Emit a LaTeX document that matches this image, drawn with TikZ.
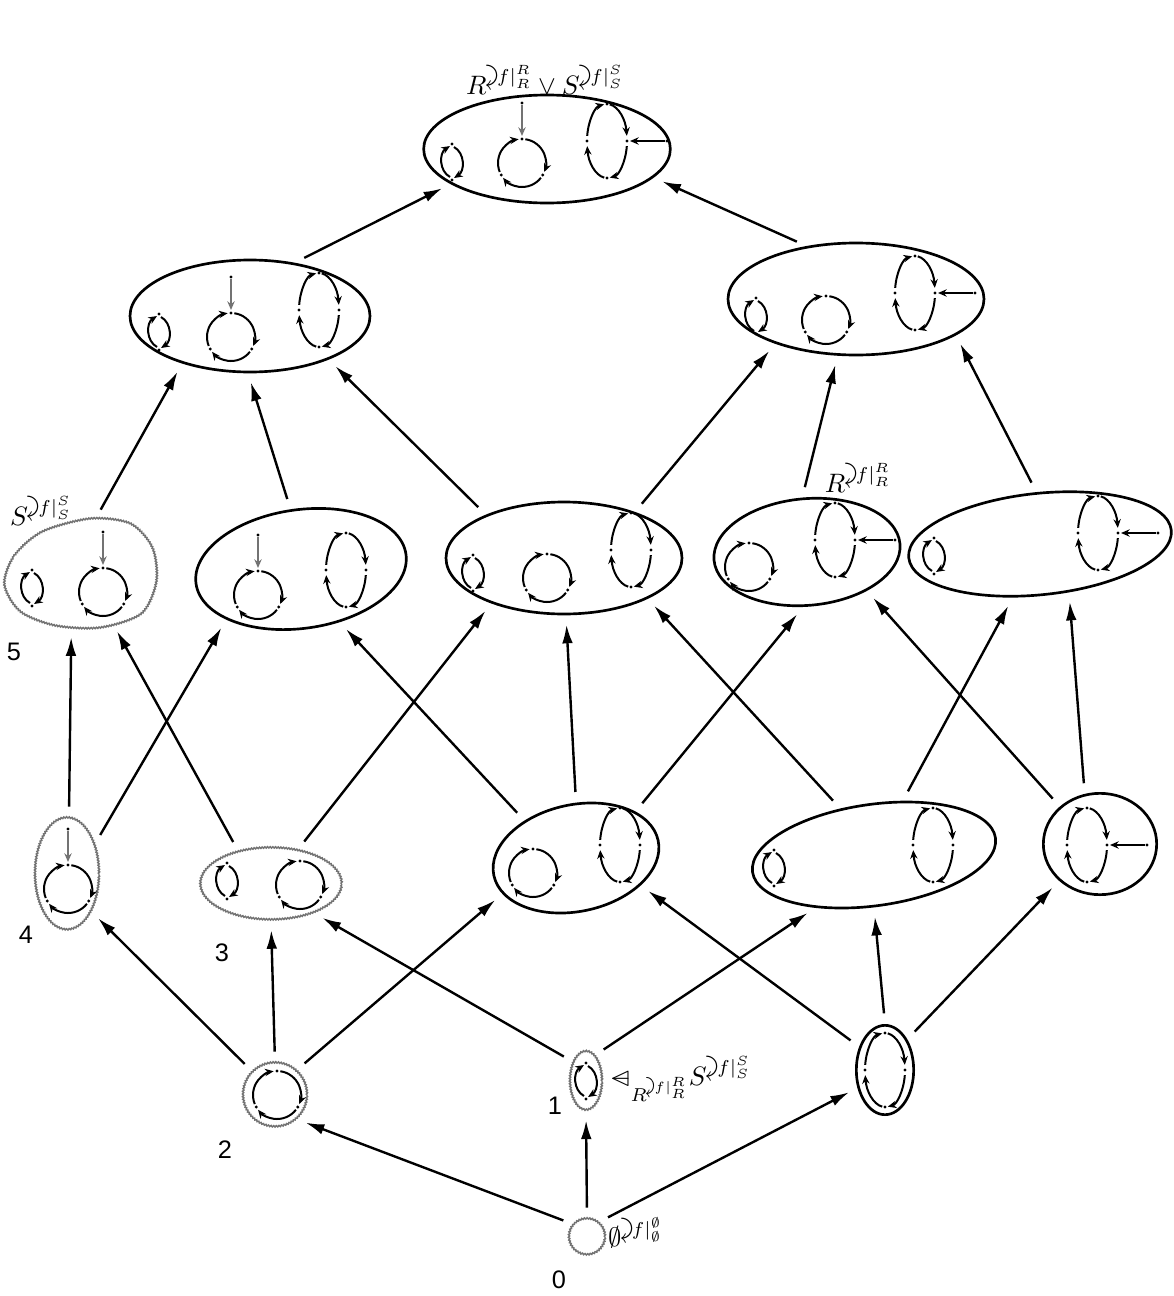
\documentclass[tikz,border=0pt]{standalone}
\usepackage{fontspec}
\setsansfont{Liberation Sans}
\usepackage{amsmath,amssymb}
\usepackage{graphicx}
\usetikzlibrary{shapes.geometric,arrows.meta,decorations.pathmorphing}

\newcommand{\turnaux}[2]{\scalebox{1.3}{\rotatebox[origin=c]{-90}{$#1\curvearrowright$}}}
\newcommand{\turn}{\mathord{\mathpalette\turnaux\relax}}
\newcommand{\qsym}{\mathord{\ooalign{$\vartriangleleft$\cr\hidewidth$-$\hidewidth\cr}}}

\tikzset{every picture/.style={line width=0.75pt}}
\tikzset{
  cyc/.style={line width=1.5pt, -{Stealth[length=6.5pt,width=5.5pt]}},
  wavy/.style={draw=black!55, line width=1.1pt, decorate, decoration={snake, amplitude=0.5pt, segment length=2pt}},
  sub/.style={ellipse, draw, line width=2pt, inner sep=0pt},
  subg/.style={ellipse, wavy, inner sep=0pt},
  incl/.style={line width=1.8pt, -{Latex[length=14pt,width=8pt]}, shorten <=8pt, shorten >=7pt},
  lab/.style={scale=2, inner sep=0pt},
  num/.style={font=\sffamily, scale=1.9, inner sep=0pt},
  % cycles, drawn screen-up inside the pics
  pics/twocyc/.style={code={
    \fill (0,-18) circle (1.7) (0,18) circle (1.7);
    \draw[cyc] (-2,-15) .. controls (-13,-9) and (-13,9) .. (-2,16);
    \draw[cyc] (2,15) .. controls (13,9) and (13,-9) .. (2,-16);
  }},
  pics/tricyc/.style={code={
    \foreach \a in {90,-30,210} {\fill (\a:24) circle (1.7);}
    \draw[cyc] (82:24) arc[start angle=82, end angle=-22, radius=24];
    \draw[cyc] (-38:24) arc[start angle=-38, end angle=-142, radius=24];
    \draw[cyc] (202:24) arc[start angle=202, end angle=98, radius=24];
  }},
  pics/tricycin/.style={code={
    \pic {tricyc};
    \fill (0,60) circle (1.7);
    \draw[cyc, black!55] (0,58) -- (0,27);
  }},
  pics/quadcyc/.style={code={
    \foreach \a in {-90,0,90,180} {\fill (\a:20 and 37) circle (1.7);}
    \foreach \a in {-90,0,90,180} {\draw[cyc] (\a-8:20 and 37) arc[start angle=\a-8, end angle=\a-82, x radius=20, y radius=37];}
  }},
  pics/quadcycin/.style={code={
    \pic {quadcyc};
    \fill (60,0) circle (1.7);
    \draw[cyc] (58,0) -- (23,0);
  }},
}

\begin{document}
\begin{tikzpicture}[x=0.75pt,y=0.75pt,yscale=-1,xscale=1]
\useasboundingbox (0,0) rectangle (1174,1296);
\fill[white] (0,0) rectangle (1174,1296);

%Shape: Ellipse [top]
\node[sub, minimum width=185pt, minimum height=81pt] (T) at (547,149) {};
%Shape: Ellipse [level 6]
\node[sub, minimum width=180pt, minimum height=84pt] (L6a) at (250,316) {};
\node[sub, minimum width=192pt, minimum height=84pt] (L6b) at (856,299) {};
%Shape: Ellipse [level 5]
\node[ellipse, minimum width=115pt, minimum height=82pt] (n5) at (80,573) {};
\draw[wavy] plot[smooth cycle] coordinates {(4,585) (14,556) (42,532) (90,519) (130,524) (152,548) (156,582) (141,614) (100,628) (55,626) (20,612)};
\node[sub, minimum width=159pt, minimum height=89pt, rotate=8] (L5b) at (301,569) {};
\node[sub, minimum width=177pt, minimum height=84pt] (L5c) at (564,558) {};
\node[sub, minimum width=140pt, minimum height=80pt, rotate=5] (L5d) at (807,552) {};
\node[sub, minimum width=198pt, minimum height=76pt, rotate=6] (L5e) at (1040,544) {};
%Shape: Ellipse [level 4]
\node[subg, minimum width=48pt, minimum height=84pt] (n4) at (67,874) {};
\node[subg, minimum width=106pt, minimum height=54pt] (n3) at (271,884) {};
\node[sub, minimum width=126pt, minimum height=80pt, rotate=12] (L4c) at (576,858) {};
\node[sub, minimum width=184pt, minimum height=76pt, rotate=8] (L4d) at (874,855) {};
\node[sub, minimum width=85pt, minimum height=76pt] (L4e) at (1100,844) {};
%Shape: Ellipse [level 3]
\node[subg, minimum width=48pt, minimum height=48pt] (n2) at (275,1095) {};
\node[subg, minimum width=24pt, minimum height=44pt] (n1) at (586,1081) {};
\node[sub, minimum width=43pt, minimum height=67pt] (L3c) at (885,1070) {};
%Shape: Circle [bottom]
\node[subg, minimum width=27pt, minimum height=27pt] (n0) at (587,1237) {};

% Cycles inside the subobjects
\pic at (452,162) {twocyc};
\pic at (522,163) {tricycin};
\pic at (607,141) {quadcycin};
\pic at (159,332) {twocyc};
\pic at (231,337) {tricycin};
\pic at (319,310) {quadcyc};
\pic at (756,316) {twocyc};
\pic at (826,320) {tricyc};
\pic at (915,293) {quadcycin};
\pic at (32,588) {twocyc};
\pic at (103,592) {tricycin};
\pic at (258,595) {tricycin};
\pic at (346,570) {quadcyc};
\pic at (473,573) {twocyc};
\pic at (547,578) {tricyc};
\pic at (631,550) {quadcyc};
\pic at (749,567) {tricyc};
\pic at (835,540) {quadcycin};
\pic at (934,556) {twocyc};
\pic at (1098,533) {quadcycin};
\pic at (68,889) {tricycin};
\pic at (227,881) {twocyc};
\pic at (300,885) {tricyc};
\pic at (533,873) {tricyc};
\pic at (620,845) {quadcyc};
\pic at (774,868) {twocyc};
\pic at (933,845) {quadcyc};
\pic at (1087,845) {quadcycin};
\pic at (277,1095) {tricyc};
\pic at (586,1081) {twocyc};
\pic at (885,1070) {quadcyc};

% Inclusions
\draw[incl] (n0.137) -- (n2.-48);
\draw[incl] (n0.90) -- (n1.-90);
\draw[incl] (n0.52) -- (L3c.-147);
\draw[incl] (n2.134) -- (n4.-57);
\draw[incl] (n2.90) -- (n3.-90);
\draw[incl] (n2.49) -- (L4c.-166);
\draw[incl] (n1.124) -- (n3.-34);
\draw[incl] (n1.71) -- (L4d.-146);
\draw[incl] (L3c.138) -- (L4c.-35);
\draw[incl] (L3c.90) -- (L4d.-98);
\draw[incl] (L3c.54) -- (L4e.-138);
\draw[incl] (n4.88) -- (n5.-99);
\draw[incl] (n4.47) -- (L5b.-154);
\draw[incl] (n3.135) -- (n5.-57);
\draw[incl] (n3.52) -- (L5c.-148);
\draw[incl] (L4c.132) -- (L5b.-62);
\draw[incl] (L4c.78) -- (L5c.-88);
\draw[incl] (L4c.26) -- (L5d.-99);
\draw[incl] (L4d.118) -- (L5c.-26);
\draw[incl] (L4d.54) -- (L5e.-123);
\draw[incl] (L4e.137) -- (L5d.-38);
\draw[incl] (L4e.107) -- (L5e.-65);
\draw[incl] (n5.74) -- (L6a.-145);
\draw[incl] (L5b.92) -- (L6a.-92);
\draw[incl] (L5c.151) -- (L6a.-29);
\draw[incl] (L5c.33) -- (L6b.-151);
\draw[incl] (L5d.90) -- (L6b.-108);
\draw[incl] (L5e.88) -- (L6b.-20);
\draw[incl] (L6a.50) -- (T.-160);
\draw[incl] (L6b.133) -- (T.-15);

% Text Node
\node[lab] (labT) at (545,79) {$R^{\turn f|^{R}_{R}}\vee S^{\turn f|^{S}_{S}}$};
\node[lab] (labS) at (41,510) {$S^{\turn f|^{S}_{S}}$};
\node[lab] (labR) at (858,477) {$R^{\turn f|^{R}_{R}}$};
\node[lab, anchor=west] (lab1) at (609,1078) {$\qsym_{R^{\turn f|^{R}_{R}}}S^{\turn f|^{S}_{S}}$};
\node[lab, anchor=west] (lab0) at (607,1232) {$\emptyset^{\turn f|^{\emptyset}_{\emptyset}}$};
% Text Node
\node[num] (k5) at (14,652) {5};
\node[num] (k4) at (26,935) {4};
\node[num] (k3) at (222,953) {3};
\node[num] (k2) at (225,1150) {2};
\node[num] (k1) at (555,1106) {1};
\node[num] (k0) at (559,1280) {0};

\end{tikzpicture}
\end{document}
